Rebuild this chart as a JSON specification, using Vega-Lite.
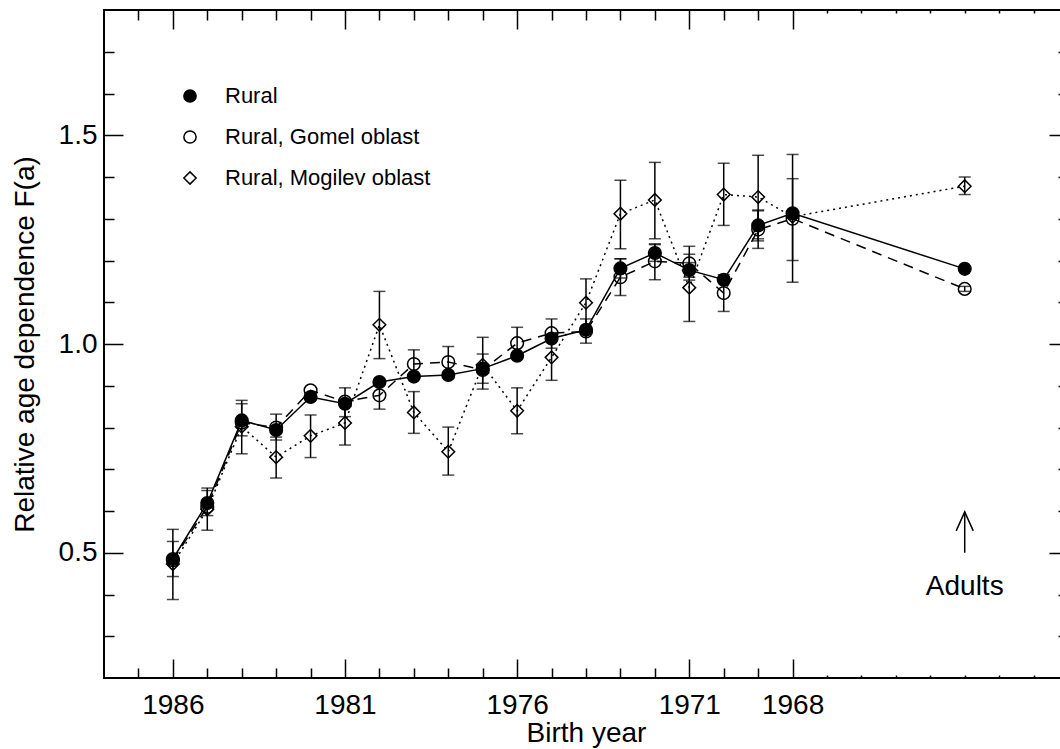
{
  "$schema": "https://vega.github.io/schema/vega-lite/v6.json",
  "width": 964,
  "height": 668,
  "autosize": "none",
  "padding": {"left": 104, "top": 10, "right": 0, "bottom": 71},
  "background": "white",
  "config": {
    "view": {"stroke": "black", "strokeWidth": 2},
    "font": "Liberation Sans",
    "axis": {
      "domain": false, "grid": false, "tickColor": "black", "tickWidth": 1.5,
      "labelColor": "black", "labelFontSize": 28, "labelFont": "Liberation Sans",
      "titleFont": "Liberation Sans", "titleFontSize": 28, "titleFontWeight": "normal", "titleColor": "black"
    },
    "legend": {"labelFontSize": 22, "labelFont": "Liberation Sans", "labelColor": "black", "labelLimit": 500, "symbolStrokeWidth": 1.5, "symbolSize": 150}
  },
  "datasets": {
    "pts": [
      {"g": "Rural, Mogilev oblast", "x": 1986, "v": 0.473, "lo": 0.388, "hi": 0.556},
      {"g": "Rural, Mogilev oblast", "x": 1985, "v": 0.604, "lo": 0.554, "hi": 0.655},
      {"g": "Rural, Mogilev oblast", "x": 1984, "v": 0.802, "lo": 0.737, "hi": 0.857},
      {"g": "Rural, Mogilev oblast", "x": 1983, "v": 0.729, "lo": 0.679, "hi": 0.777},
      {"g": "Rural, Mogilev oblast", "x": 1982, "v": 0.780, "lo": 0.728, "hi": 0.830},
      {"g": "Rural, Mogilev oblast", "x": 1981, "v": 0.811, "lo": 0.758, "hi": 0.864},
      {"g": "Rural, Mogilev oblast", "x": 1980, "v": 1.046, "lo": 0.965, "hi": 1.126},
      {"g": "Rural, Mogilev oblast", "x": 1979, "v": 0.836, "lo": 0.786, "hi": 0.886},
      {"g": "Rural, Mogilev oblast", "x": 1978, "v": 0.742, "lo": 0.686, "hi": 0.801},
      {"g": "Rural, Mogilev oblast", "x": 1977, "v": 0.950, "lo": 0.892, "hi": 1.016},
      {"g": "Rural, Mogilev oblast", "x": 1976, "v": 0.840, "lo": 0.785, "hi": 0.895},
      {"g": "Rural, Mogilev oblast", "x": 1975, "v": 0.968, "lo": 0.913, "hi": 1.023},
      {"g": "Rural, Mogilev oblast", "x": 1974, "v": 1.099, "lo": 1.042, "hi": 1.156},
      {"g": "Rural, Mogilev oblast", "x": 1973, "v": 1.312, "lo": 1.228, "hi": 1.392},
      {"g": "Rural, Mogilev oblast", "x": 1972, "v": 1.345, "lo": 1.252, "hi": 1.435},
      {"g": "Rural, Mogilev oblast", "x": 1971, "v": 1.135, "lo": 1.054, "hi": 1.215},
      {"g": "Rural, Mogilev oblast", "x": 1970, "v": 1.358, "lo": 1.284, "hi": 1.433},
      {"g": "Rural, Mogilev oblast", "x": 1969, "v": 1.352, "lo": 1.252, "hi": 1.452},
      {"g": "Rural, Mogilev oblast", "x": 1968, "v": 1.305, "lo": 1.148, "hi": 1.454},
      {"g": "Rural, Mogilev oblast", "x": 1963, "v": 1.378, "lo": 1.358, "hi": 1.400},
      {"g": "Rural, Gomel oblast", "x": 1986, "v": 0.482, "lo": null, "hi": null},
      {"g": "Rural, Gomel oblast", "x": 1985, "v": 0.610, "lo": null, "hi": null},
      {"g": "Rural, Gomel oblast", "x": 1984, "v": 0.812, "lo": null, "hi": null},
      {"g": "Rural, Gomel oblast", "x": 1983, "v": 0.800, "lo": null, "hi": null},
      {"g": "Rural, Gomel oblast", "x": 1982, "v": 0.889, "lo": null, "hi": null},
      {"g": "Rural, Gomel oblast", "x": 1981, "v": 0.862, "lo": null, "hi": null},
      {"g": "Rural, Gomel oblast", "x": 1980, "v": 0.877, "lo": 0.844, "hi": 0.910},
      {"g": "Rural, Gomel oblast", "x": 1979, "v": 0.952, "lo": 0.918, "hi": 0.986},
      {"g": "Rural, Gomel oblast", "x": 1978, "v": 0.957, "lo": 0.920, "hi": 0.994},
      {"g": "Rural, Gomel oblast", "x": 1977, "v": 0.938, "lo": null, "hi": null},
      {"g": "Rural, Gomel oblast", "x": 1976, "v": 1.002, "lo": 0.964, "hi": 1.040},
      {"g": "Rural, Gomel oblast", "x": 1975, "v": 1.026, "lo": 0.990, "hi": 1.060},
      {"g": "Rural, Gomel oblast", "x": 1974, "v": 1.030, "lo": null, "hi": null},
      {"g": "Rural, Gomel oblast", "x": 1973, "v": 1.160, "lo": 1.116, "hi": 1.204},
      {"g": "Rural, Gomel oblast", "x": 1972, "v": 1.198, "lo": 1.154, "hi": 1.240},
      {"g": "Rural, Gomel oblast", "x": 1971, "v": 1.193, "lo": 1.153, "hi": 1.234},
      {"g": "Rural, Gomel oblast", "x": 1970, "v": 1.122, "lo": 1.078, "hi": 1.166},
      {"g": "Rural, Gomel oblast", "x": 1969, "v": 1.274, "lo": 1.229, "hi": 1.319},
      {"g": "Rural, Gomel oblast", "x": 1968, "v": 1.300, "lo": 1.200, "hi": 1.396},
      {"g": "Rural, Gomel oblast", "x": 1963, "v": 1.132, "lo": 1.126, "hi": 1.138},
      {"g": "Rural", "x": 1986, "v": 0.485, "lo": 0.443, "hi": 0.527},
      {"g": "Rural", "x": 1985, "v": 0.619, "lo": 0.589, "hi": 0.649},
      {"g": "Rural", "x": 1984, "v": 0.817, "lo": 0.780, "hi": 0.865},
      {"g": "Rural", "x": 1983, "v": 0.794, "lo": 0.770, "hi": 0.832},
      {"g": "Rural", "x": 1982, "v": 0.873, "lo": null, "hi": null},
      {"g": "Rural", "x": 1981, "v": 0.857, "lo": 0.826, "hi": 0.895},
      {"g": "Rural", "x": 1980, "v": 0.909, "lo": null, "hi": null},
      {"g": "Rural", "x": 1979, "v": 0.922, "lo": null, "hi": null},
      {"g": "Rural", "x": 1978, "v": 0.926, "lo": null, "hi": null},
      {"g": "Rural", "x": 1977, "v": 0.941, "lo": 0.906, "hi": 0.976},
      {"g": "Rural", "x": 1976, "v": 0.972, "lo": null, "hi": null},
      {"g": "Rural", "x": 1975, "v": 1.013, "lo": null, "hi": null},
      {"g": "Rural", "x": 1974, "v": 1.034, "lo": 1.002, "hi": 1.060},
      {"g": "Rural", "x": 1973, "v": 1.181, "lo": 1.158, "hi": 1.204},
      {"g": "Rural", "x": 1972, "v": 1.218, "lo": 1.198, "hi": 1.238},
      {"g": "Rural", "x": 1971, "v": 1.177, "lo": 1.160, "hi": 1.195},
      {"g": "Rural", "x": 1970, "v": 1.154, "lo": null, "hi": null},
      {"g": "Rural", "x": 1969, "v": 1.284, "lo": 1.247, "hi": 1.321},
      {"g": "Rural", "x": 1968, "v": 1.313, "lo": null, "hi": null},
      {"g": "Rural", "x": 1963, "v": 1.180, "lo": null, "hi": null}
    ],
    "notes": [
      {"x": 1963, "y0": 0.5, "y1": 0.598, "label": "Adults", "ly": 0.398}
    ]
  },
  "resolve": {"axis": {"x": "independent", "y": "independent"}},
  "layer": [
    {
      "data": {"name": "pts"},
      "transform": [{"filter": "datum.lo != null"}],
      "mark": {"type": "rule", "color": "black", "strokeWidth": 1.5},
      "encoding": {
        "x": {
          "field": "x", "type": "quantitative",
          "scale": {"domain": [1960, 1988], "reverse": true, "nice": false, "zero": false},
          "axis": {
            "orient": "bottom", "title": "Birth year", "titleY": 41,
            "values": [1961,1962,1963,1964,1965,1966,1967,1968,1969,1970,1971,1972,1973,1974,1975,1976,1977,1978,1979,1980,1981,1982,1983,1984,1985,1986,1987],
            "labelExpr": "(datum.value == 1986 || datum.value == 1981 || datum.value == 1976 || datum.value == 1971 || datum.value == 1968) ? datum.value + '' : ''",
            "tickSize": {"condition": [{"test": "datum.value == 1986 || datum.value == 1981 || datum.value == 1976 || datum.value == 1971 || datum.value == 1968", "value": -19}, {"test": "datum.value < 1968", "value": -3}], "value": -10},
            "labelPadding": 32, "labelFlush": false, "labelOverlap": false
          }
        },
        "y": {
          "field": "lo", "type": "quantitative",
          "scale": {"domain": [0.2, 1.8], "nice": false, "zero": false},
          "axis": {
            "orient": "left", "title": "Relative age dependence F(a)", "titleX": -65,
            "values": [0.3,0.4,0.5,0.6,0.7,0.8,0.9,1.0,1.1,1.2,1.3,1.4,1.5,1.6,1.7],
            "labelExpr": "abs(datum.value*2 - round(datum.value*2)) < 0.001 ? format(datum.value, '.1f') : ''",
            "tickSize": {"condition": {"test": "abs(datum.value*2 - round(datum.value*2)) < 0.001", "value": -19}, "value": -10},
            "labelPadding": 26, "labelOverlap": false
          }
        },
        "y2": {"field": "hi"}
      }
    },
    {
      "data": {"name": "pts"},
      "transform": [{"filter": "datum.lo != null"}],
      "mark": {"type": "tick", "orient": "horizontal", "color": "black", "size": 12, "thickness": 1.5},
      "encoding": {
        "x": {
          "field": "x", "type": "quantitative",
          "axis": {
            "orient": "top", "title": null, "labels": false,
            "values": [1961,1962,1963,1964,1965,1966,1967,1968,1969,1970,1971,1972,1973,1974,1975,1976,1977,1978,1979,1980,1981,1982,1983,1984,1985,1986,1987],
            "tickSize": {"condition": [{"test": "datum.value == 1986 || datum.value == 1981 || datum.value == 1976 || datum.value == 1971 || datum.value == 1968", "value": -19}, {"test": "datum.value < 1968", "value": -3}], "value": -10}
          }
        },
        "y": {
          "field": "lo", "type": "quantitative",
          "axis": {
            "orient": "right", "title": null, "labels": false,
            "values": [0.3,0.4,0.5,0.6,0.7,0.8,0.9,1.0,1.1,1.2,1.3,1.4,1.5,1.6,1.7],
            "tickSize": {"condition": {"test": "abs(datum.value*2 - round(datum.value*2)) < 0.001", "value": -19}, "value": -10}
          }
        }
      }
    },
    {
      "data": {"name": "pts"},
      "transform": [{"filter": "datum.hi != null"}],
      "mark": {"type": "tick", "orient": "horizontal", "color": "black", "size": 12, "thickness": 1.5},
      "encoding": {
        "x": {"field": "x", "type": "quantitative", "axis": null},
        "y": {"field": "hi", "type": "quantitative", "axis": null}
      }
    },
    {
      "data": {"name": "pts"},
      "transform": [{"filter": "datum.g == 'Rural, Mogilev oblast'"}],
      "mark": {"type": "line", "color": "black", "strokeWidth": 1.5, "strokeDash": [2, 4]},
      "encoding": {
        "x": {"field": "x", "type": "quantitative", "axis": null},
        "y": {"field": "v", "type": "quantitative", "axis": null}
      }
    },
    {
      "data": {"name": "pts"},
      "transform": [{"filter": "datum.g == 'Rural, Gomel oblast'"}],
      "mark": {"type": "line", "color": "black", "strokeWidth": 1.5, "strokeDash": [10, 7]},
      "encoding": {
        "x": {"field": "x", "type": "quantitative", "axis": null},
        "y": {"field": "v", "type": "quantitative", "axis": null}
      }
    },
    {
      "data": {"name": "pts"},
      "transform": [{"filter": "datum.g == 'Rural'"}],
      "mark": {"type": "line", "color": "black", "strokeWidth": 1.5},
      "encoding": {
        "x": {"field": "x", "type": "quantitative", "axis": null},
        "y": {"field": "v", "type": "quantitative", "axis": null}
      }
    },
    {
      "data": {"name": "pts"},
      "mark": {"type": "point", "filled": true, "strokeWidth": 1.5, "opacity": 1},
      "encoding": {
        "x": {"field": "x", "type": "quantitative", "axis": null},
        "y": {"field": "v", "type": "quantitative", "axis": null},
        "shape": {
          "field": "g", "type": "nominal",
          "scale": {"domain": ["Rural", "Rural, Gomel oblast", "Rural, Mogilev oblast"], "range": ["circle", "circle", "diamond"]},
          "legend": {"title": null, "orient": "none", "direction": "vertical", "legendX": 75, "legendY": 75, "rowPadding": 19, "labelOffset": 24}
        },
        "fill": {
          "field": "g", "type": "nominal",
          "scale": {"domain": ["Rural", "Rural, Gomel oblast", "Rural, Mogilev oblast"], "range": ["black", "transparent", "transparent"]},
          "legend": {"title": null, "orient": "none", "direction": "vertical", "legendX": 75, "legendY": 75, "rowPadding": 19, "labelOffset": 24}
        },
        "stroke": {
          "field": "g", "type": "nominal",
          "scale": {"domain": ["Rural", "Rural, Gomel oblast", "Rural, Mogilev oblast"], "range": ["black", "black", "black"]},
          "legend": {"title": null, "orient": "none", "direction": "vertical", "legendX": 75, "legendY": 75, "rowPadding": 19, "labelOffset": 24}
        },
        "size": {"value": 160}
      }
    },
    {
      "data": {"name": "notes"},
      "mark": {"type": "rule", "color": "black", "strokeWidth": 1.5},
      "encoding": {
        "x": {"field": "x", "type": "quantitative", "axis": null},
        "y": {"field": "y0", "type": "quantitative", "axis": null},
        "y2": {"field": "y1"}
      }
    },
    {
      "data": {"name": "notes"},
      "mark": {"type": "point", "shape": "M-0.45,1L0,0L0.45,1", "filled": false, "stroke": "black", "strokeWidth": 1.5, "size": 1444, "opacity": 1},
      "encoding": {
        "x": {"field": "x", "type": "quantitative", "axis": null},
        "y": {"field": "y1", "type": "quantitative", "axis": null}
      }
    },
    {
      "data": {"name": "notes"},
      "mark": {"type": "text", "fontSize": 28, "font": "Liberation Sans", "align": "center", "baseline": "alphabetic", "color": "black"},
      "encoding": {
        "x": {"field": "x", "type": "quantitative", "axis": null},
        "y": {"field": "ly", "type": "quantitative", "axis": null},
        "text": {"field": "label"}
      }
    }
  ]
}
